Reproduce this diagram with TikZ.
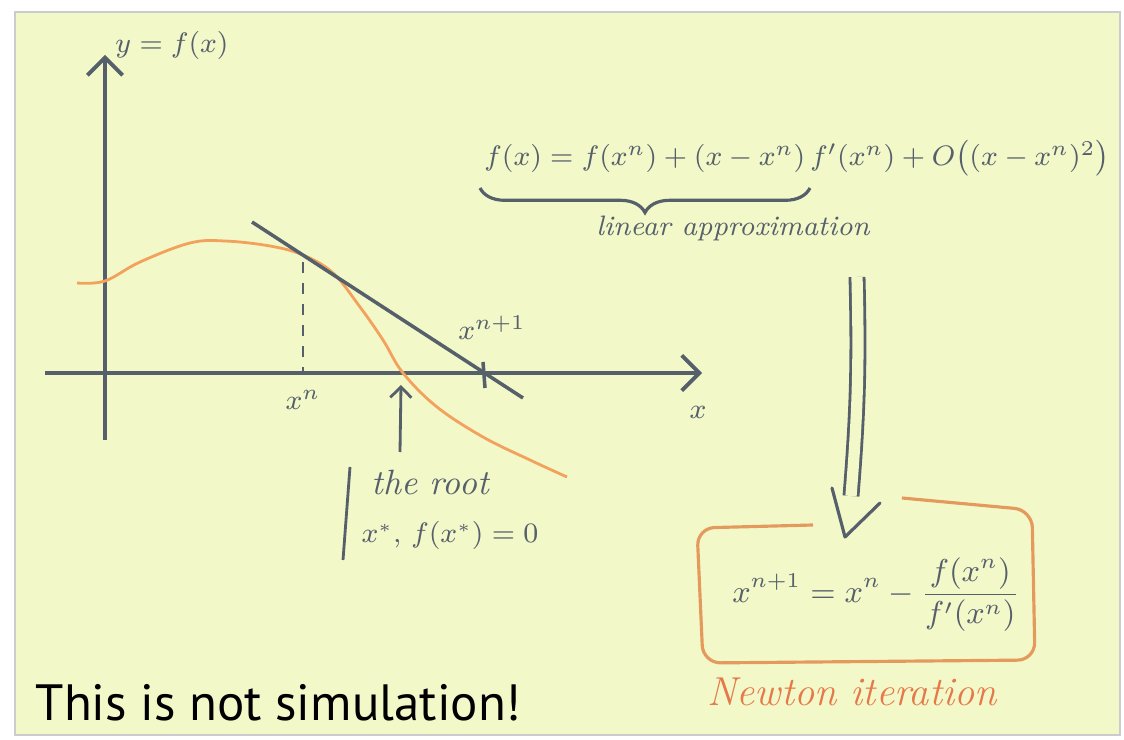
\documentclass[tikz,border=0pt]{standalone}
\usepackage{amsmath,amssymb}
\usepackage{xcolor}
\usepackage{fontspec}
\newfontfamily\notefont{PT Sans}
\usepackage{tikz}
\usetikzlibrary{arrows.meta,calc,decorations.pathreplacing}
\definecolor{paper}{HTML}{F3F8C9}
\definecolor{ink}{HTML}{56606B}
\definecolor{curveorange}{HTML}{F2A25C}
\definecolor{boxorange}{HTML}{E49A5C}
\definecolor{newtonred}{HTML}{E5794A}

\begin{document}
\begin{tikzpicture}[
    x=0.01cm, y=-0.01cm,
    axis/.style={draw=ink, line width=1.1pt, -{Straight Barb[length=5pt,width=10pt]}},
    pointer/.style={draw=ink, line width=0.8pt, -{Straight Barb[length=3pt,width=6pt]}},
    stroke/.style={draw=ink, line width=0.8pt},
    lbl/.style={text=ink, inner sep=1pt, font=\fontsize{8.5}{10}\selectfont},
    hand/.style={text=ink, inner sep=1pt, font=\itshape},
    fcurve/.style={draw=curveorange, line width=0.8pt},
    tangent/.style={draw=ink, line width=1pt},
    dbl/.style={draw=ink, line width=0.8pt, double=paper, double distance=3.2pt},
    vhead/.style={draw=ink, line width=0.9pt, line join=round, line cap=round},
    boxline/.style={draw=boxorange, line width=0.9pt, rounded corners=5pt},
    brace/.style={draw=ink, line width=0.9pt, decorate, decoration={brace, amplitude=7pt, mirror}}
]
  \fill[white] (0,0) rectangle (1124,740);
  \filldraw[fill=paper, draw=black!20] (15,12) rectangle (1120,735);
  \useasboundingbox (0,0) rectangle (1124,740);

  % axes
  \coordinate (xstart) at (45,373);
  \coordinate (xend) at (702,373);
  \coordinate (ystart) at (105,440);
  \coordinate (yend) at (105,55);
  \draw[axis] (xstart) -- (xend);
  \draw[axis] (ystart) -- (yend);
  \node[lbl] (ylabel) at (172,45) {$y = f(x)$};
  \node[lbl] (xlabel) at (698,412) {$x$};

  % the function and its tangent
  \draw[fcurve] plot[smooth, tension=0.6] coordinates {(77,283) (105,281) (140,262)
    (190,243) (225,241) (270,246) (303,255) (333,273) (360,307) (383,340)
    (403,373) (437,407) (483,437) (530,460) (567,477)};
  \coordinate (tanstart) at (252,222);
  \coordinate (tanend) at (523,398);
  \draw[tangent] (tanstart) -- (tanend);

  \coordinate (touch) at (303,262);
  \coordinate (xn) at (303,373);
  \draw[stroke, dash pattern=on 3pt off 3pt] (touch) -- (xn);
  \node[lbl] (xnlabel) at (303,400) {$x^n$};

  \coordinate (xnext) at (484,373);
  \draw[stroke, line width=1pt] ($(xnext)+(-1,-11)$) -- ($(xnext)+(1,15)$);
  \node[lbl] (xnextlabel) at (492,328) {$x^{n+1}$};

  % the root
  \coordinate (root) at (401,385);
  \coordinate (rootfoot) at (400,452);
  \draw[pointer] (rootfoot) -- (root);
  \node[hand] (rootlabel) at (430,482) {the root};
  \node[lbl, font=\fontsize{7.8}{9}\selectfont] (rootdef) at (450,535) {$x^*,\, f(x^*) = 0$};
  \coordinate (bartop) at (350,467);
  \coordinate (barbot) at (343,560);
  \draw[stroke] (bartop) -- (barbot);

  % Taylor expansion
  \node[lbl] (taylor) at (797,158)
    {$f(x) = f(x^n) + (x-x^n)\,f'(x^n) + O\big((x-x^n)^2\big)$};
  \coordinate (braceleft) at (480,188);
  \coordinate (braceright) at (810,188);
  \draw[brace] (braceleft) -- (braceright);
  \node[hand, font=\footnotesize\itshape] (linear) at (733,228) {linear approximation};

  % implication
  \coordinate (dtop) at (857,277);
  \coordinate (dneck) at (851,496);
  \coordinate (dleft) at (832,488);
  \coordinate (dtip) at (845,537);
  \coordinate (dright) at (880,503);
  \draw[dbl] (dtop) to[bend left=3] (dneck);
  \draw[vhead] (dleft) -- (dtip) -- (dright);

  % Newton iteration
  \node[lbl, font=\fontsize{8.8}{10}\selectfont] (newton) at (876,595)
    {$\displaystyle x^{n+1} = x^n - \frac{f(x^n)}{f'(x^n)}$};
  \draw[boxline] (813,525) -- (697,528) -- (703,663) -- (1035,660) -- (1032,510) -- (902,498);
  \node[font=\fontsize{11.5}{13}\selectfont\itshape, text=newtonred, inner sep=1pt] (newtonlabel) at (852,692) {Newton iteration};

  \node[anchor=base west, inner sep=0pt, font=\notefont\fontsize{14.5}{17}\selectfont]
    (slogan) at (35,720) {This is not simulation!};
\end{tikzpicture}
\end{document}
